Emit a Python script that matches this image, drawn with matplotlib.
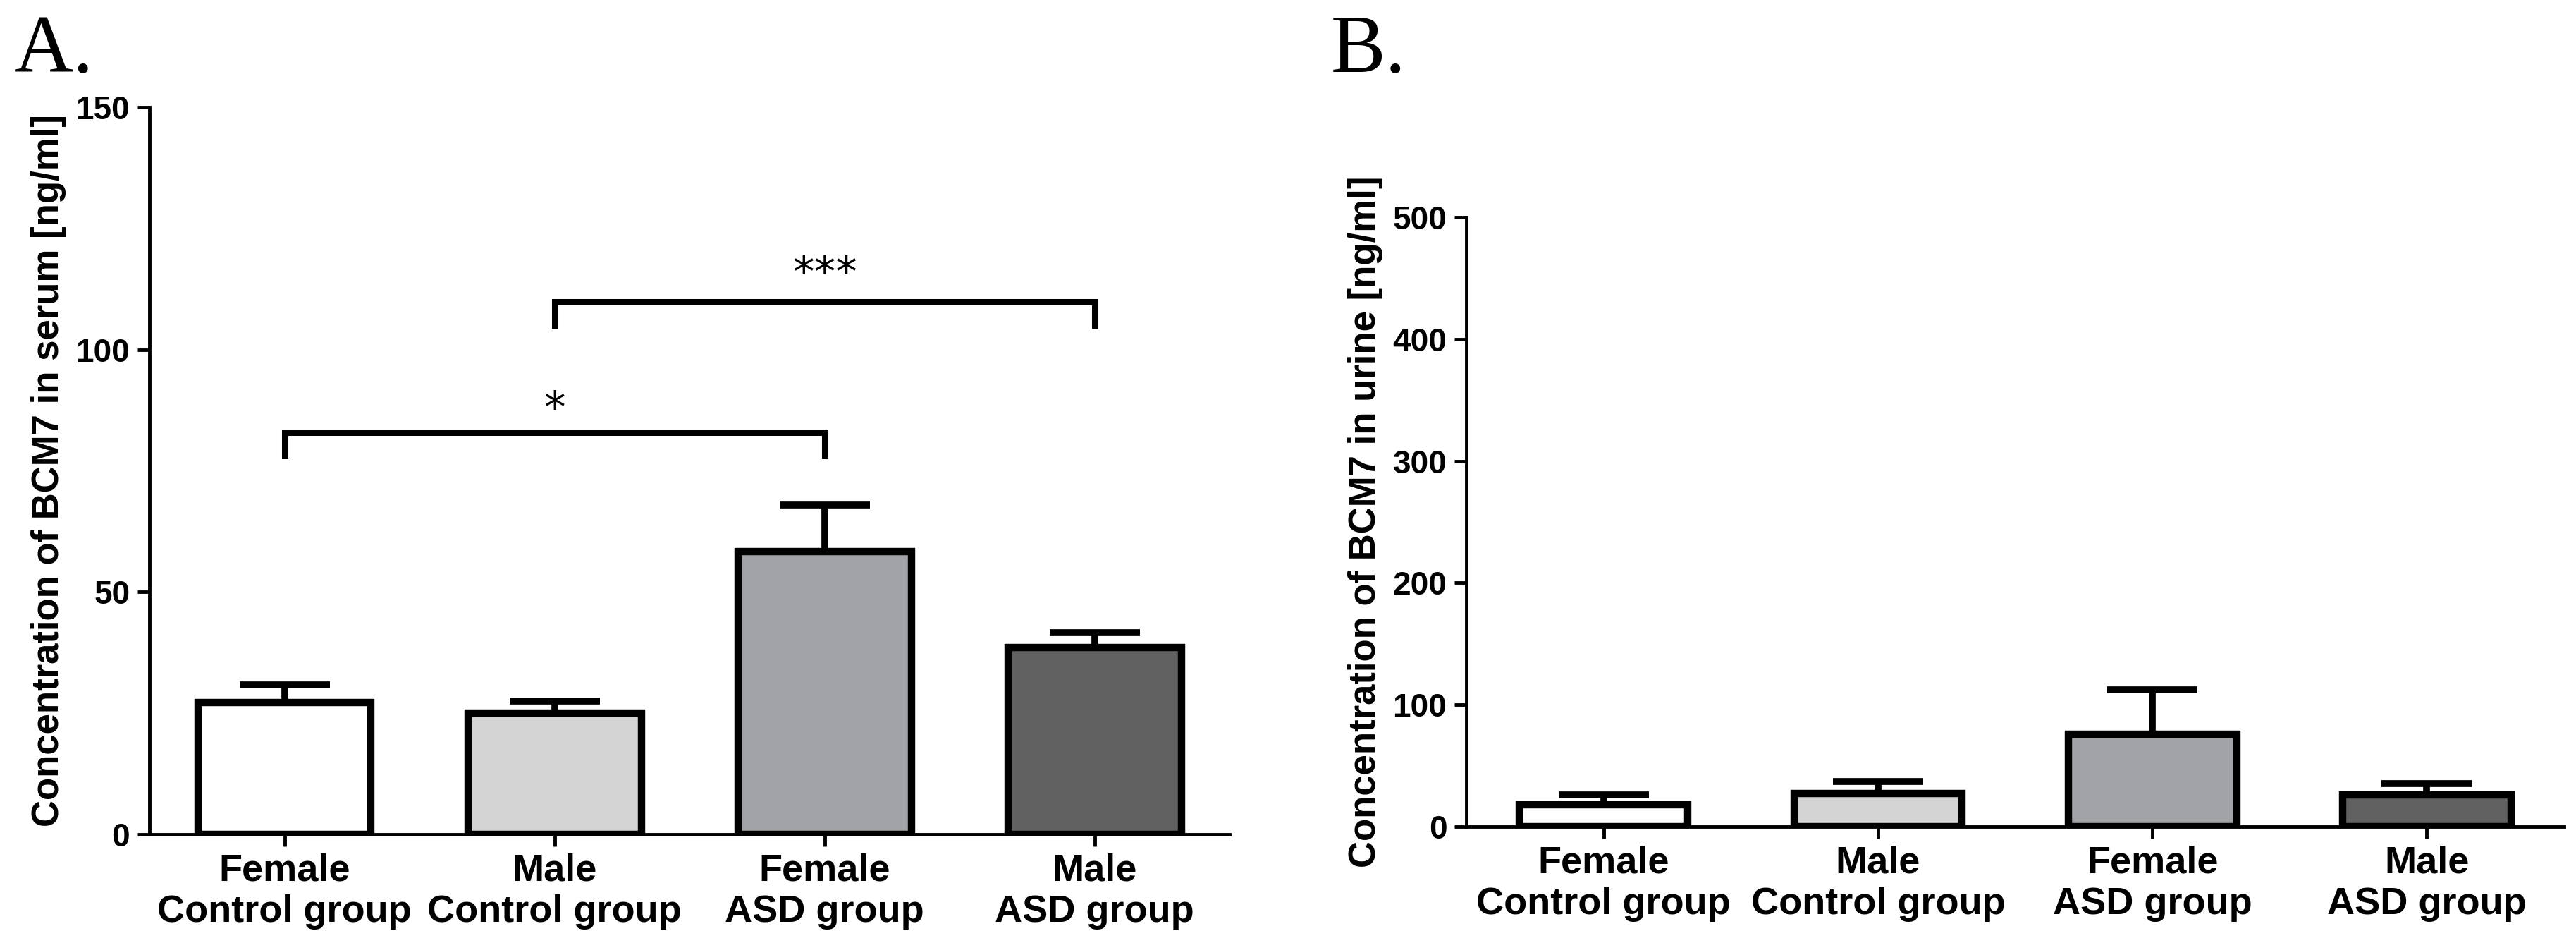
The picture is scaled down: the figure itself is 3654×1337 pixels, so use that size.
import matplotlib.pyplot as plt
import numpy as np

groups = ["Female\nControl group", "Male\nControl group", "Female\nASD group", "Male\nASD group"]
colors = ["#ffffff", "#d4d4d4", "#a2a3a7", "#616161"]

serum_mean = [27.2, 25.0, 58.4, 38.6]
serum_sem = [3.6, 2.5, 9.5, 3.0]

urine_mean = [18, 27, 76, 26]
urine_sem = [8, 10, 36, 9.5]

# significance brackets for serum: (from, to, height, leg end, label, label y)
serum_sig = [(0, 2, 83.0, 78.2, "*", 87.5), (1, 3, 109.8, 105.0, "***", 115.5)]

plt.rcParams['font.family'] = ['Liberation Sans', 'DejaVu Sans']

fig = plt.figure(figsize=(36.55, 13.37), dpi=100)
axA = fig.add_axes([0.0580, 0.1152, 0.4192, 0.7711])
axB = fig.add_axes([0.5691, 0.1234, 0.4260, 0.6462])


def bar_panel(ax, means, sems, width, ylim, yticks, ylabel):
    x = np.arange(len(means))
    ax.errorbar(x, means, yerr=[np.zeros(len(means)), sems], fmt='none',
                ecolor='black', elinewidth=7, capsize=46, capthick=7, zorder=1)
    ax.bar(x, means, width=width, color=colors, edgecolor='black', linewidth=7.5, zorder=2)
    ax.set_xlim(-0.5, 3.5)
    ax.set_ylim(*ylim)
    ax.set_yticks(yticks)
    ax.set_xticks(x)
    ax.set_xticklabels(groups, fontsize=39, fontweight='bold', linespacing=1.22)
    for lab in ax.get_yticklabels():
        lab.set_fontsize(33)
        lab.set_fontweight('bold')
    ax.set_ylabel(ylabel, fontsize=38, fontweight='bold', labelpad=10)
    for s in ['top', 'right']:
        ax.spines[s].set_visible(False)
    for s in ['left', 'bottom']:
        ax.spines[s].set_linewidth(3.5)
    ax.tick_params(axis='both', width=3.5, length=12, color='black')
    ax.tick_params(axis='y', pad=8)
    ax.tick_params(axis='x', pad=7)


bar_panel(axA, serum_mean, serum_sem, 0.642, (0, 150), [0, 50, 100, 150],
          "Concentration of BCM7 in serum [ng/ml]")
bar_panel(axB, urine_mean, urine_sem, 0.613, (0, 500), [0, 100, 200, 300, 400, 500],
          "Concentration of BCM7 in urine [ng/ml]")

for a, b, h, leg, txt, ty in serum_sig:
    axA.plot([a, a, b, b], [leg, h, h, leg], color='black', linewidth=6.5,
             solid_joinstyle='miter', clip_on=False)
    axA.text((a + b) / 2, ty, txt, ha='center', va='center', fontsize=44,
             family='DejaVu Sans')

fig.text(0.0055, 0.9237, "A.", fontsize=84, family='Liberation Serif', va='baseline')
fig.text(0.5166, 0.9237, "B.", fontsize=84, family='Liberation Serif', va='baseline')

fig.savefig("out.png", dpi=100)
